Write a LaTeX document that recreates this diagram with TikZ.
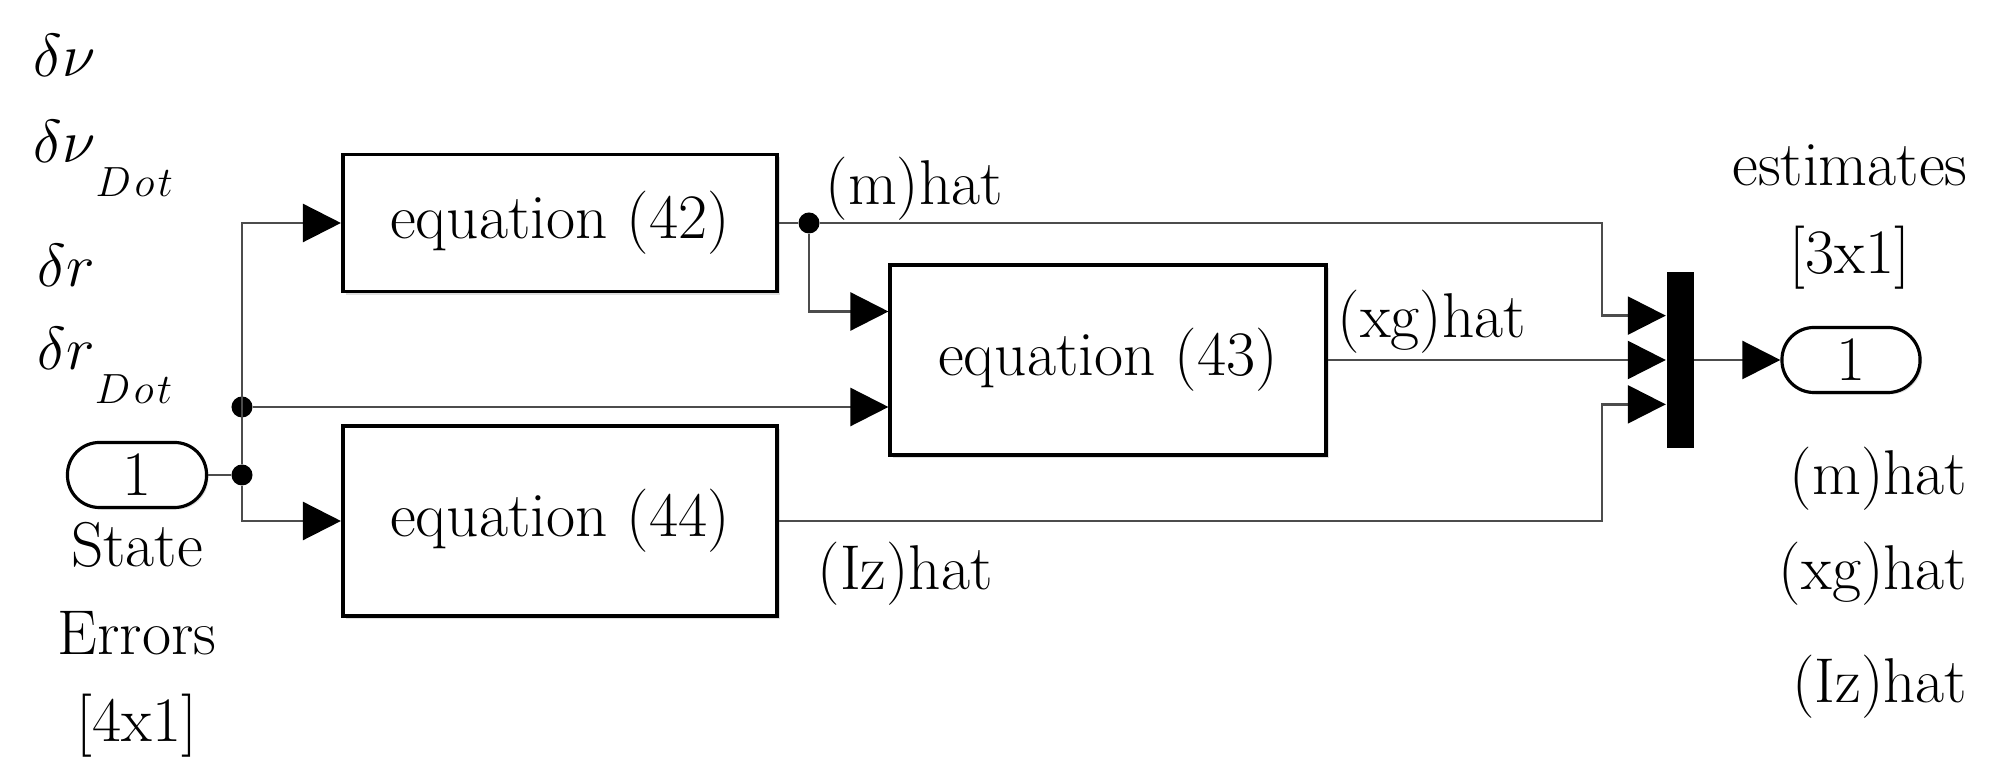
\documentclass[tikz,border=0pt]{standalone}
\usepackage{amsmath}
\usepackage{tikz}
\usetikzlibrary{arrows.meta,positioning,calc,shadows}
\newcommand{\dotsub}{\raisebox{-0.33cm}{\fontsize{13}{15}\selectfont$D\mkern1.5mu o\mkern1.5mu t$}}

\begin{document}
\begin{tikzpicture}[
        x=0.01cm, y=-0.01cm,
        font=\fontsize{18}{22}\selectfont,
        node distance=0.28cm,
        eqbox/.style={rectangle, draw, line width=1.1pt, fill=white,
            minimum width=4.34cm, minimum height=#1, inner sep=0pt,
            drop shadow={shadow xshift=0.03cm, shadow yshift=-0.03cm, opacity=0.25}},
        port/.style={rectangle, rounded corners=0.32cm, draw, line width=0.9pt, fill=white,
            minimum width=1.39cm, minimum height=0.65cm, inner sep=0pt,
            drop shadow={shadow xshift=0.02cm, shadow yshift=-0.02cm, opacity=0.25}},
        muxbar/.style={rectangle, fill=black, minimum width=0.27cm,
            minimum height=1.76cm, inner sep=0pt},
        sig/.style={draw=black!70, line width=0.7pt},
        arr/.style={sig, -{Triangle[length=0.38cm, width=0.38cm, color=black]}},
        lbl/.style={inner sep=0pt, text height=0.45cm, text depth=0.13cm},
        sym/.style={inner sep=0pt, anchor=base west},
        jdot/.style={circle, fill=black, minimum size=0.21cm, inner sep=0pt}
    ]
        \useasboundingbox (0,0) rectangle (2005,780);

        \node[eqbox=1.37cm] (eq42) at (560,223) {equation (42)};
        \node[eqbox=1.90cm, minimum width=4.35cm] (eq43) at (1108,360) {equation (43)};
        \node[eqbox=1.90cm] (eq44) at (560,521) {equation (44)};
        \node[muxbar] (mux) at (1680,360) {};
        \node[port] (inport) at (137,475) {1};
        \node[port, minimum width=1.38cm] (outport) at (1851,360) {1};

        \node[jdot] (jin) at (242,475) {};
        \node[jdot] (jmid) at (242,407) {};
        \node[jdot] (jm) at (809,223) {};
        \coordinate (bend) at (1602,0);
        \coordinate (m1) at ($(mux.north west)!0.25!(mux.south west)$);
        \coordinate (m3) at ($(mux.north west)!0.75!(mux.south west)$);
        \coordinate (e1) at ($(eq43.north west)!0.25!(eq43.south west)$);

        \draw[sig] (inport) -- (jin);
        \draw[arr] (jin) |- (eq42);
        \draw[arr] (jin) |- (eq44);
        \draw[arr] (jmid) -- (jmid -| eq43.west);
        \draw[sig] (eq42) -- (jm);
        \draw[arr] (jm) -| (bend |- m1) -- (m1);
        \draw[arr] (jm) |- (e1);
        \draw[arr] (eq43) -- (mux.west);
        \draw[arr] (eq44.east) -| (bend |- m3) -- (m3);
        \draw[arr] (mux) -- (outport);

        \node[lbl, anchor=base west] (mhat) at (825,205) {(m)hat};
        \node[lbl, anchor=base west] (xghat) at (1337,338) {(xg)hat};
        \node[lbl, anchor=base west] (izhat) at (817,590) {(Iz)hat};

        \node[lbl, anchor=base] (est) at (1850,186) {estimates};
        \node[lbl, below=of est] (dimout) {[3x1]};
        \node[lbl, anchor=base east] (rm) at (1968,495) {(m)hat};
        \node[lbl, below=0.35cm of rm.south east, anchor=north east] (rxg) {(xg)hat};
        \node[lbl, below=0.54cm of rxg.south east, anchor=north east] (riz) {(Iz)hat};

        \node[lbl, below=0.12cm of inport] (state) {State};
        \node[lbl, below=of state] (errors) {Errors};
        \node[lbl, below=of errors] (dimin) {[4x1]};

        \node[sym] (dv) at (33,77) {$\delta\nu$};
        \node[sym] (dvdot) at (33,163) {$\delta\nu$\dotsub};
        \node[sym] (dr) at (37,287) {$\delta r$};
        \node[sym] (drdot) at (37,370) {$\delta r$\dotsub};
    \end{tikzpicture}
\end{document}
